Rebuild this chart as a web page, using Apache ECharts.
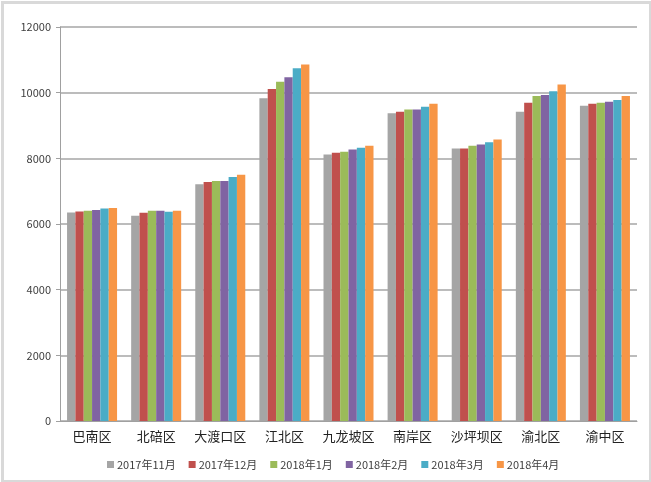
<!DOCTYPE html>
<html><head><meta charset="utf-8">
<script src="https://cdn.jsdelivr.net/npm/echarts@6/dist/echarts.min.js"></script>
<style>html,body{margin:0;padding:0;background:#fff}#c{width:651px;height:482px}</style>
</head><body><div id="c"></div>
<script>
const categories = ['巴南区','北碚区','大渡口区','江北区','九龙坡区','南岸区','沙坪坝区','渝北区','渝中区'];
const seriesNames = ['2017年11月','2017年12月','2018年1月','2018年2月','2018年3月','2018年4月'];
const colors = ['#a5a5a5','#c0504d','#9bbb59','#8064a2','#4bacc6','#f79646'];
const nov2017 = [6350, 6250, 7210, 9830, 8120, 9370, 8300, 9420, 9600];
const dec2017 = [6380, 6340, 7280, 10110, 8170, 9420, 8300, 9690, 9660];
const jan2018 = [6400, 6400, 7310, 10330, 8200, 9490, 8380, 9900, 9690];
const feb2018 = [6430, 6400, 7310, 10470, 8270, 9490, 8420, 9930, 9720];
const mar2018 = [6470, 6370, 7430, 10740, 8320, 9570, 8490, 10040, 9780];
const apr2018 = [6490, 6400, 7500, 10860, 8380, 9660, 8570, 10250, 9900];
const yTicks = [0, 2000, 4000, 6000, 8000, 10000, 12000];
const data = [nov2017, dec2017, jan2018, feb2018, mar2018, apr2018];

const chart = echarts.init(document.getElementById('c'), null, {renderer:'canvas'});
chart.setOption({
  animation:false,
  color: colors,
  textStyle:{fontFamily:'"Noto Sans CJK SC", "DejaVu Sans", sans-serif'},
  graphic:[{type:'rect', left:0, top:0, shape:{x:1.5,y:1.5,width:648,height:479}, style:{fill:'none', stroke:'#d9d9d9', lineWidth:3}, silent:true}],
  grid:{left:60, right:14, top:27, bottom:61, containLabel:false},
  legend:{
    data: seriesNames, left:102, top:454, itemWidth:7, itemHeight:7, itemGap:13,
    icon:'rect', textStyle:{fontSize:11, color:'#404040', padding:[0,0,0,-2]}
  },
  xAxis:{
    type:'category', data:categories,
    axisLine:{lineStyle:{color:'#a0a0a0', width:1}},
    axisTick:{show:false},
    axisLabel:{fontSize:13, color:'#222', margin:9, interval:0}
  },
  yAxis:{
    type:'value', min:yTicks[0], max:yTicks[yTicks.length-1], interval:2000,
    axisLine:{show:true, lineStyle:{color:'#a0a0a0'}},
    axisTick:{show:true, length:4, lineStyle:{color:'#a0a0a0'}},
    axisLabel:{fontSize:11, color:'#404040', margin:9, formatter: v => String(v)},
    splitLine:{lineStyle:{color:'#a6a6a6', width:1.5}}
  },
  series: seriesNames.map((n,i)=>({
    name:n, type:'bar', data:data[i], barGap:'0%', barCategoryGap:'22%'
  }))
});
</script></body></html>
